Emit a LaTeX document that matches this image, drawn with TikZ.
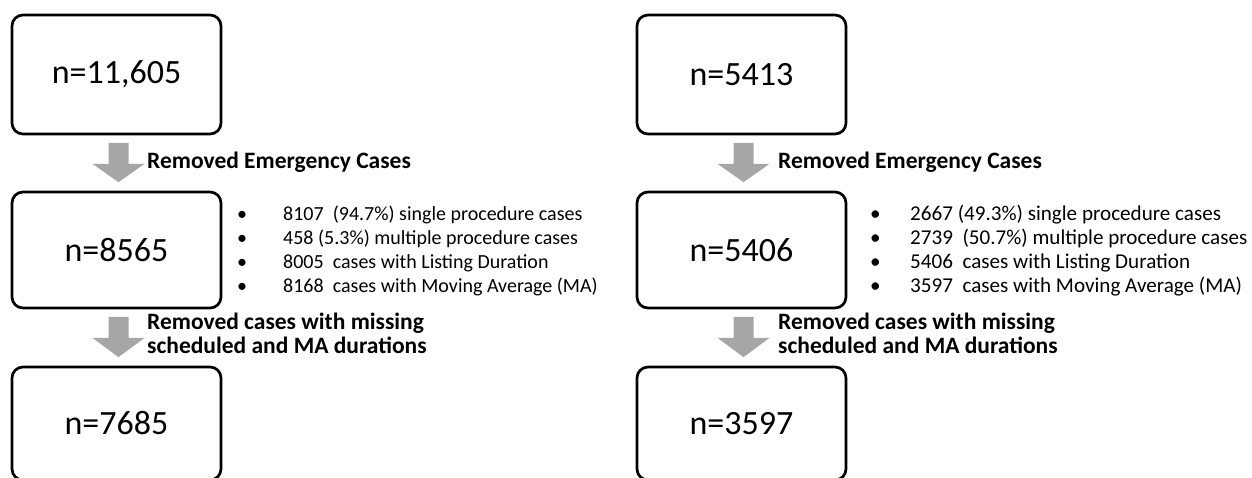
\documentclass[tikz,border=0pt]{standalone}
\usepackage{fontspec}
\setmainfont{Carlito}
\usetikzlibrary{calc}
\definecolor{arrowgray}{RGB}{166,166,166}
\newcommand\grayarrow[2]{%
  \fill[arrowgray] ($(#1.south)+(-8,7.5)$) -- ($(#1.south)+(12,7.5)$)
    -- ($(#1.south)+(12,28.5)$) -- ($(#1.south)+(28,28.5)$)
    -- ($(#2.north)+(2,-8.5)$)
    -- ($(#1.south)+(-24,28.5)$) -- ($(#1.south)+(-8,28.5)$) -- cycle;}
\begin{document}
\begin{tikzpicture}[x=1pt,y=-1pt,
  box/.style={draw=black, line width=2.7pt, rounded corners=11pt, minimum width=209pt,
    inner sep=0pt, font=\fontsize{34}{40}\selectfont},
  lbl/.style={anchor=base west, inner sep=0pt, font=\fontsize{23.5}{24}\selectfont\bfseries},
  lsta/.style={anchor=base west, inner sep=0pt, font=\fontsize{20}{24.3}\selectfont},
  lstb/.style={anchor=base west, inner sep=0pt, font=\fontsize{21.1}{24.3}\selectfont},
]
\useasboundingbox (0,0) rectangle (1252,477);
\begin{scope}
\clip (0,0) rectangle (1252,477);
% left column
\node[box, minimum height=119pt] (a1) at (116.5,74.5) {n=11,605};
\node[box, minimum height=116pt] (a2) at (116.5,250) {n=8565};
\node[box, minimum height=113pt] (a3) at (116.5,423.5) {n=7685};
% right column
\node[box, minimum height=119pt] (b1) at (741.5,74.5) {n=5413};
\node[box, minimum height=116pt] (b2) at (741.5,250) {n=5406};
\node[box, minimum height=113pt] (b3) at (741.5,423.5) {n=3597};
\end{scope}
\grayarrow{a1}{a2}
\grayarrow{a2}{a3}
\grayarrow{b1}{b2}
\grayarrow{b2}{b3}
% labels
\node[lbl] (la1) at (147,168) {Removed Emergency Cases};
\node[lbl] (la2) at (147,329) {\begin{tabular}[t]{@{}l@{}}Removed cases with missing\\ scheduled and MA durations\end{tabular}};
\node[lbl] (lb1) at (778,168) {Removed Emergency Cases};
\node[lbl] (lb2) at (778,329) {\begin{tabular}[t]{@{}l@{}}Removed cases with missing\\ scheduled and MA durations\end{tabular}};
% lists
\node[lsta] (sa) at (237,220) {\begin{tabular}[t]{@{}p{46pt}@{}l@{}}
\textbullet & 8107\ \ (94.7\%) single procedure cases\\
\textbullet & 458 (5.3\%) multiple procedure cases\\
\textbullet & 8005\ \ cases with Listing Duration\\
\textbullet & 8168\ \ cases with Moving Average (MA)
\end{tabular}};
\node[lstb] (sb) at (870,220) {\begin{tabular}[t]{@{}p{40pt}@{}l@{}}
\textbullet & 2667\ (49.3\%) single procedure cases\\
\textbullet & 2739\ \ (50.7\%) multiple procedure cases\\
\textbullet & 5406\ \ cases with Listing Duration\\
\textbullet & 3597\ \ cases with Moving Average (MA)
\end{tabular}};
\end{tikzpicture}
\end{document}
